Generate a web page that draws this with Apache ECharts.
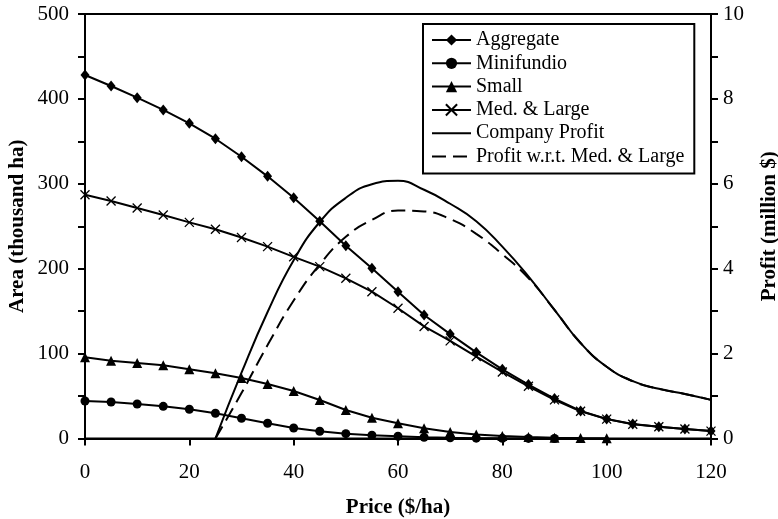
<!DOCTYPE html>
<html>
<head>
<meta charset="utf-8">
<script src="https://cdn.jsdelivr.net/npm/echarts@6/dist/echarts.min.js"></script>
<style>
html,body{margin:0;padding:0;background:#fff;}
#chart{width:778px;height:519px;}
</style>
</head>
<body>
<div id="chart"></div>
<script>
// ---- data ----
const price = [0,5,10,15,20,25,30,35,40,45,50,55,60,65,70,75,80,85,90,95,100,105,110,115,120];
const aggregate = [428.2,415.2,401.4,387,371.3,353.1,331.9,308.8,283.6,255.9,227.1,200.5,172.9,145.5,123,101.5,81.5,63.5,47,32.5,23,17,13.9,11.2,8.8];
const minifundio = [44.2,43,40.6,37.9,34.4,29.7,23.8,17.9,12.4,8.5,5.7,3.8,2.6,1.5,0.8,0.4,0.2,0.1,0];
const small = [95.6,91.6,88.9,86.2,81.5,76.8,71.3,64.2,55.9,45.3,33.6,24.5,17.9,12.2,7.6,4.7,2.9,1.8,1,0.5,0.2];
const medLarge = [287.2,279.7,271.5,263.2,254.6,246.4,236.7,226,214,202.4,188.7,172.9,153.4,132,115,96.5,78.4,61.5,45.5,32,22.8,16.8,13.8,11.1,8.7];
const profitPrice = [25,30,35,40,45,50,55,60,65,70,75,80,85,90,95,100,105,110,115,120];
const companyProfit = [0,1.55,2.98,4.2,5.1,5.67,5.99,6.07,5.86,5.53,5.12,4.52,3.82,3.03,2.25,1.69,1.35,1.17,1.05,0.91];
const profitMedLarge = [0,1.07,2.2,3.25,4.1,4.75,5.15,5.37,5.35,5.17,4.82,4.34,3.78,3.03,2.25,1.69,1.35,1.17,1.05,0.91];
const seriesNames = ['Aggregate','Minifundio','Small','Med. & Large','Company Profit','Profit w.r.t. Med. & Large'];

function pairs(xs, ys){ return ys.map((y,i)=>[xs[i], y]); }

const FONT = 'Liberation Serif';
const crossPath = 'path://M0,0L10,10M10,0L0,10';

const chart = echarts.init(document.getElementById('chart'), null, {renderer:'canvas'});
const axisCommon = {
  axisLine:{show:true, lineStyle:{color:'#000', width:2}},
  axisTick:{show:true, length:7, lineStyle:{color:'#000', width:2}},
  axisLabel:{color:'#000', fontFamily:FONT, fontSize:21},
  splitLine:{show:false},
  nameTextStyle:{color:'#000', fontFamily:FONT, fontSize:21, fontWeight:'bold'}
};
const option = {
  animation:false,
  backgroundColor:'#fff',
  grid:{left:85, right:67, top:14, bottom:80.5, containLabel:false, outerBoundsMode:'none',
        show:true, borderColor:'#000', borderWidth:2, backgroundColor:'transparent'},
  legend:{
    orient:'vertical', left:423, top:24,
    padding:[6,10,7,8],
    itemWidth:39, itemHeight:14, itemGap:3.3,
    borderColor:'#000', borderWidth:2, backgroundColor:'#fff',
    textStyle:{color:'#000', fontFamily:FONT, fontSize:20},
    data:[
      {name:seriesNames[0]},
      {name:seriesNames[1]},
      {name:seriesNames[2]},
      {name:seriesNames[3]},
      {name:seriesNames[4], itemStyle:{opacity:0}},
      {name:seriesNames[5], itemStyle:{opacity:0}}
    ]
  },
  xAxis:{
    type:'value', min:0, max:120, interval:20,
    name:'Price ($/ha)', nameLocation:'middle', nameGap:59,
    ...axisCommon,
    axisLabel:{...axisCommon.axisLabel, margin:23}
  },
  yAxis:[
    {
      type:'value', min:0, max:500, interval:100, position:'left',
      name:'Area (thousand ha)', nameLocation:'middle', nameGap:57, nameRotate:90, nameMoveOverlap:false,
      ...axisCommon,
      minorTick:{show:true, splitNumber:2, length:7, lineStyle:{color:'#000', width:2}},
      axisLabel:{...axisCommon.axisLabel, margin:16}
    },
    {
      type:'value', min:0, max:10, interval:2, position:'right',
      name:'Profit (million $)', nameLocation:'middle', nameGap:48, nameRotate:90,
      ...axisCommon,
      minorTick:{show:true, splitNumber:2, length:7, lineStyle:{color:'#000', width:2}},
      axisLabel:{...axisCommon.axisLabel, margin:12}
    }
  ],
  series:[
    {name:seriesNames[0], type:'line', yAxisIndex:0, data:pairs(price, aggregate),
     symbol:'diamond', symbolSize:[9,11], color:'#000',
     lineStyle:{color:'#000', width:2}, itemStyle:{color:'#000', borderWidth:0}},
    {name:seriesNames[1], type:'line', yAxisIndex:0, data:pairs(price, minifundio),
     symbol:'circle', symbolSize:9, color:'#000',
     lineStyle:{color:'#000', width:2}, itemStyle:{color:'#000', borderWidth:0}},
    {name:seriesNames[2], type:'line', yAxisIndex:0, data:pairs(price, small),
     symbol:'triangle', symbolSize:10, color:'#000',
     lineStyle:{color:'#000', width:2}, itemStyle:{color:'#000', borderWidth:0}},
    {name:seriesNames[3], type:'line', yAxisIndex:0, data:pairs(price, medLarge),
     symbol:crossPath, symbolSize:9, color:'#000',
     lineStyle:{color:'#000', width:2}, itemStyle:{color:'#000', borderColor:'#000', borderWidth:1.3}},
    {name:seriesNames[4], type:'line', yAxisIndex:1, data:pairs(profitPrice, companyProfit),
     symbol:'none', smooth:0.5, color:'#000',
     lineStyle:{color:'#000', width:2}},
    {name:seriesNames[5], type:'line', yAxisIndex:1, data:pairs(profitPrice, profitMedLarge),
     symbol:'none', smooth:0.5, color:'#000',
     lineStyle:{color:'#000', width:2, type:[14,7]}}
  ]
};
chart.setOption(option);
</script>
</body>
</html>
